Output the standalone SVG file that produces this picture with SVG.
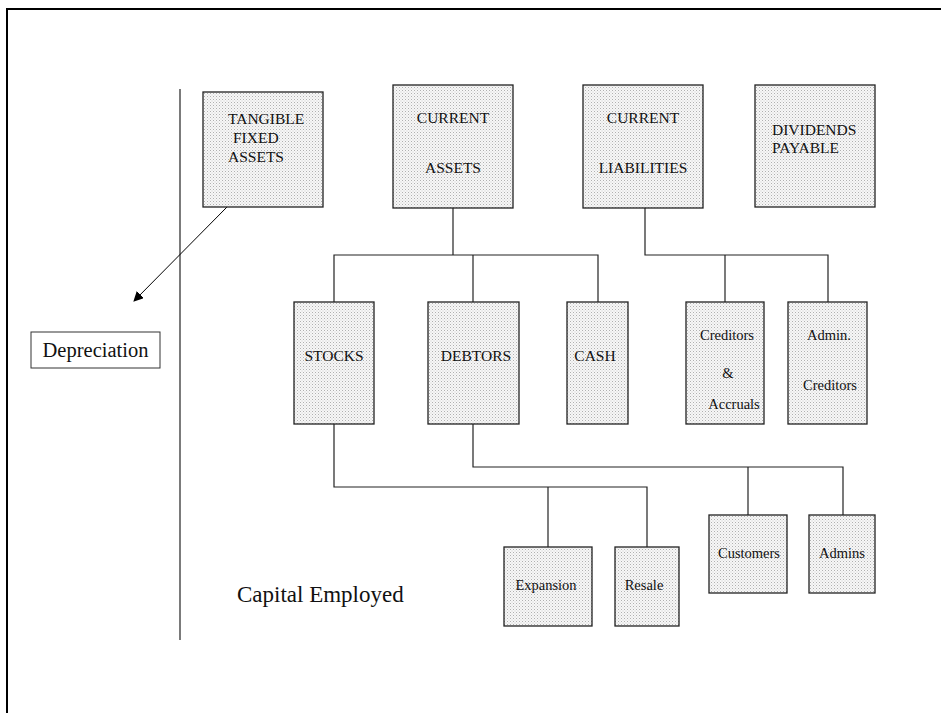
<svg xmlns="http://www.w3.org/2000/svg" width="941" height="713" viewBox="0 0 941 713">
<defs>
<pattern id="dots" width="3" height="3" patternUnits="userSpaceOnUse">
<rect width="3" height="3" fill="#f7f7f7"/>
<rect x="0" y="0" width="1" height="1" fill="#b0b0b0"/>
<rect x="1.5" y="1.5" width="1" height="1" fill="#cccccc"/>
</pattern>
<marker id="arr" viewBox="0 0 10 10" refX="9" refY="5" markerWidth="10" markerHeight="10" markerUnits="userSpaceOnUse" orient="auto">
<path d="M0,0 L10,5 L0,10 z" fill="#000"/>
</marker>
</defs>
<style>
.box{fill:url(#dots);stroke:#222;stroke-width:1.3}
.plain{fill:#fff;stroke:#333;stroke-width:1}
text{font-family:'Liberation Serif','Times New Roman',Tinos,'DejaVu Serif',serif;fill:#111}
.t{font-size:15.5px}
.s{font-size:14.5px}
.c{stroke:#222;stroke-width:1.2;fill:none}
</style>
<rect x="7" y="9" width="940" height="710" fill="#fff" stroke="#000" stroke-width="2"/>
<line x1="180" y1="89" x2="180" y2="640" stroke="#222" stroke-width="1.2"/>

<g id="connectors">
<polyline class="c" points="453,208 453,255"/>
<polyline class="c" points="334,302 334,255 598,255 598,302"/>
<line class="c" x1="473" y1="255" x2="473" y2="302"/>
<polyline class="c" points="645,208 645,255 828,255 828,302"/>
<line class="c" x1="725" y1="255" x2="725" y2="302"/>
<polyline class="c" points="334,424 334,487 647,487 647,547"/>
<line class="c" x1="548" y1="487" x2="548" y2="547"/>
<polyline class="c" points="473,424 473,467 843,467 843,515"/>
<line class="c" x1="748" y1="467" x2="748" y2="515"/>
<line x1="227" y1="207" x2="134" y2="301" stroke="#000" stroke-width="1" marker-end="url(#arr)"/>
</g>

<g id="tangible">
<rect class="box" x="203" y="92" width="120" height="115"/>
<text class="t" x="228" y="124">TANGIBLE</text>
<text class="t" x="233" y="143">FIXED</text>
<text class="t" x="228" y="162">ASSETS</text>
</g>
<g id="current-assets">
<rect class="box" x="393" y="85" width="120" height="123"/>
<text class="t" x="453" y="123" text-anchor="middle">CURRENT</text>
<text class="t" x="453" y="173" text-anchor="middle">ASSETS</text>
</g>
<g id="current-liabilities">
<rect class="box" x="583" y="85" width="120" height="123"/>
<text class="t" x="643" y="123" text-anchor="middle">CURRENT</text>
<text class="t" x="643" y="173" text-anchor="middle">LIABILITIES</text>
</g>
<g id="dividends">
<rect class="box" x="755" y="85" width="120" height="122"/>
<text class="t" x="772" y="135">DIVIDENDS</text>
<text class="t" x="772" y="153">PAYABLE</text>
</g>
<g id="depreciation">
<rect class="plain" x="31" y="332" width="129" height="36"/>
<text x="95.5" y="357" text-anchor="middle" font-size="20.5">Depreciation</text>
</g>
<g id="stocks">
<rect class="box" x="294" y="302" width="80" height="122"/>
<text class="t" x="334" y="361" text-anchor="middle">STOCKS</text>
</g>
<g id="debtors">
<rect class="box" x="428" y="302" width="91" height="122"/>
<text class="t" x="476" y="361" text-anchor="middle">DEBTORS</text>
</g>
<g id="cash">
<rect class="box" x="567" y="302" width="61" height="122"/>
<text class="t" x="595" y="361" text-anchor="middle">CASH</text>
</g>
<g id="creditors-accruals">
<rect class="box" x="686" y="302" width="78" height="122"/>
<text class="s" x="727" y="340" text-anchor="middle">Creditors</text>
<text class="s" x="728" y="378" text-anchor="middle">&amp;</text>
<text class="s" x="734" y="409" text-anchor="middle">Accruals</text>
</g>
<g id="admin-creditors">
<rect class="box" x="788" y="302" width="79" height="122"/>
<text class="s" x="829" y="340" text-anchor="middle">Admin.</text>
<text class="s" x="830" y="390" text-anchor="middle">Creditors</text>
</g>
<g id="expansion">
<rect class="box" x="504" y="547" width="88" height="79"/>
<text class="s" x="546" y="590" text-anchor="middle">Expansion</text>
</g>
<g id="resale">
<rect class="box" x="615" y="547" width="64" height="79"/>
<text class="s" x="644" y="590" text-anchor="middle">Resale</text>
</g>
<g id="customers">
<rect class="box" x="709" y="515" width="78" height="78"/>
<text class="s" x="749" y="558" text-anchor="middle">Customers</text>
</g>
<g id="admins">
<rect class="box" x="809" y="515" width="66" height="78"/>
<text class="s" x="842" y="558" text-anchor="middle">Admins</text>
</g>
<g id="capital-employed">
<text x="237" y="602" font-size="23">Capital Employed</text>
</g>
</svg>
